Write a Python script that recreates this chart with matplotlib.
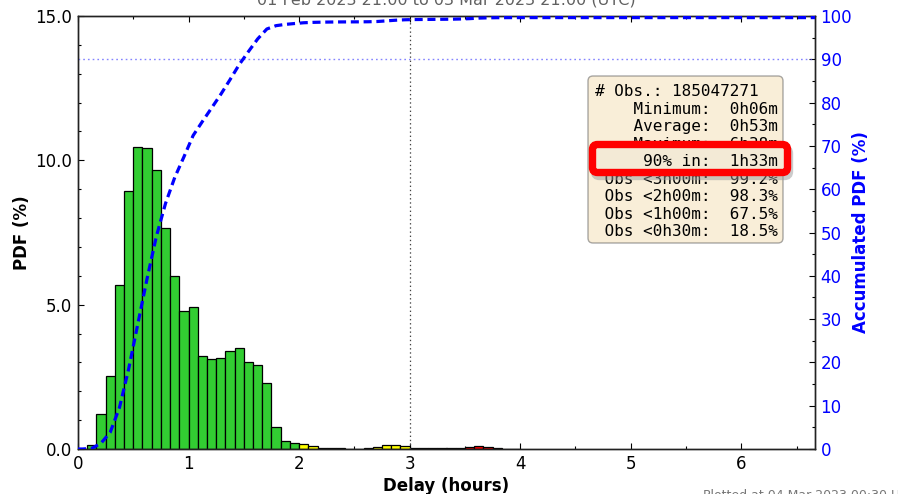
import numpy as np
import matplotlib
matplotlib.use("Agg")
import matplotlib.pyplot as plt
from matplotlib.patches import FancyBboxPatch
from matplotlib.ticker import MultipleLocator, FormatStrFormatter
from matplotlib.transforms import IdentityTransform

# delay histogram, 5-minute bins, values in % of observations per bin
bin_minutes = 5
pdf_green = [0.0, 0.14, 1.2, 2.53, 5.68, 8.95, 10.45, 10.42, 9.68, 7.66, 6.0, 4.77,
             4.93, 3.22, 3.12, 3.16, 3.38, 3.49, 3.0, 2.92, 2.3, 0.77, 0.29, 0.2]   # 0h-2h
pdf_yellow = [0.18, 0.09, 0.05, 0.03, 0.02, 0.01, 0.01, 0.02, 0.06, 0.15, 0.15, 0.10]  # 2h-3h
pdf_red = [0.05, 0.02, 0.02, 0.02, 0.02, 0.05, 0.08, 0.12, 0.07, 0.03, 0.01, 0.01]     # 3h-4h
colors = {"green": "#32cd32", "yellow": "#ffff00", "red": "#ff0000"}

title = "01 Feb 2023 21:00 to 03 Mar 2023 21:00 (UTC)"
footer = "Plotted at 04 Mar 2023 00:30 UTC"
stats_lines = [
    "# Obs.: 185047271",
    "    Minimum:  0h06m",
    "    Average:  0h53m",
    "    Maximum:  6h38m",
    "     90% in:  1h33m",
    " Obs <3h00m:  99.2%",
    " Obs <2h00m:  98.3%",
    " Obs <1h00m:  67.5%",
    " Obs <0h30m:  18.5%",
]
highlight_line = 4
x_max_hours = 6 + 40 / 60

W, H = 898, 494
plt.rcParams["lines.scale_dashes"] = False
fig = plt.figure(figsize=(W / 100, H / 100), dpi=100)
ax = fig.add_axes([78 / W, 1 - 449 / H, (815 - 78) / W, (449 - 16) / H])
ax2 = ax.twinx()

pdf = np.array(pdf_green + pdf_yellow + pdf_red)
width = bin_minutes / 60
edges = np.arange(len(pdf)) * width
bar_colors = ([colors["green"]] * len(pdf_green) + [colors["yellow"]] * len(pdf_yellow)
              + [colors["red"]] * len(pdf_red))
ax.bar(edges, pdf, width=width, align="edge", color=bar_colors,
       edgecolor="black", linewidth=0.9, zorder=2)

# accumulated distribution at bin centres
cum = np.concatenate([[0], np.cumsum(pdf), [np.cumsum(pdf)[-1]]])
xc = np.concatenate([[0], edges + width / 2, [x_max_hours]])
ax2.plot(xc, cum, color="blue", lw=2.3, linestyle=(0, (5.8, 3.4)), zorder=3)
ax2.axhline(90, color="#5a5aff", lw=1.0, linestyle=(0, (1.2, 2.2)), alpha=0.75)
ax2.axvline(3, color="#444444", lw=0.9, linestyle=(0, (1, 2)))

ax.set_xlim(0, x_max_hours)
ax.set_ylim(0, 15)
ax2.set_ylim(0, 100)

ax.xaxis.set_major_locator(MultipleLocator(1))
ax.xaxis.set_minor_locator(MultipleLocator(0.5))
ax.yaxis.set_major_locator(MultipleLocator(5))
ax.yaxis.set_minor_locator(MultipleLocator(1))
ax.yaxis.set_major_formatter(FormatStrFormatter("%.1f"))
ax2.yaxis.set_major_locator(MultipleLocator(10))
ax2.yaxis.set_minor_locator(MultipleLocator(5))

ax.tick_params(which="both", direction="in", top=True, right=False, labelsize=12,
               width=0.8, pad=4)
ax.tick_params(which="major", length=4)
ax.tick_params(which="minor", length=2)
ax2.tick_params(which="both", direction="in", labelsize=12, labelcolor="blue",
                width=0.8, pad=4)
ax2.tick_params(which="major", length=4)
ax2.tick_params(which="minor", length=2)

for a in (ax, ax2):
    for s in a.spines.values():
        s.set_linewidth(1.0)
        s.set_color("#222222")

ax.set_xlabel("Delay (hours)", fontsize=12, fontweight="bold", labelpad=3)
ax.set_ylabel("PDF (%)", fontsize=12, fontweight="bold", labelpad=3)
ax2.set_ylabel("Accumulated PDF (%)", fontsize=12, fontweight="bold", color="blue",
               labelpad=0)
ax.set_title(title, fontsize=11.5, color="#606060", pad=8)

# statistics box, placed in pixel coordinates
def px(x, y):
    return x, H - y

ident = IdentityTransform()
x0, y0 = px(588, 243)
box = FancyBboxPatch((x0, y0), 783 - 588, 243 - 76, boxstyle="round,pad=0,rounding_size=5",
                     facecolor="#f5deb3", alpha=0.5, edgecolor="#555555", lw=1.0,
                     transform=ident, zorder=5)
fig.patches.append(box)

# red frame around the 90% line, with a soft drop shadow
x0, y0 = px(592.5, 172.5)
shadow = FancyBboxPatch((x0 + 2, y0 - 4), 195, 28, boxstyle="round,pad=0,rounding_size=5",
                        facecolor="none", edgecolor="#999999", lw=5.3, alpha=0.5,
                        transform=ident, zorder=6)
hl = FancyBboxPatch((x0, y0), 195, 28, boxstyle="round,pad=0,rounding_size=5",
                    facecolor="#f3ead6", edgecolor="#ff0000", lw=5.3,
                    transform=ident, zorder=7)
fig.patches.extend([shadow, hl])

for i, line in enumerate(stats_lines):
    tx, ty = px(595, 96 + 17.5 * i)
    fig.text(tx, ty, line, transform=ident, family="DejaVu Sans Mono", fontsize=11.5,
             va="baseline", ha="left", zorder=8 if i == highlight_line else 5.5)

tx, ty = px(703, 489)
fig.text(tx, ty, footer, transform=ident, fontsize=9, color="#777777", va="top", ha="left")

fig.savefig("out.png", dpi=100)
